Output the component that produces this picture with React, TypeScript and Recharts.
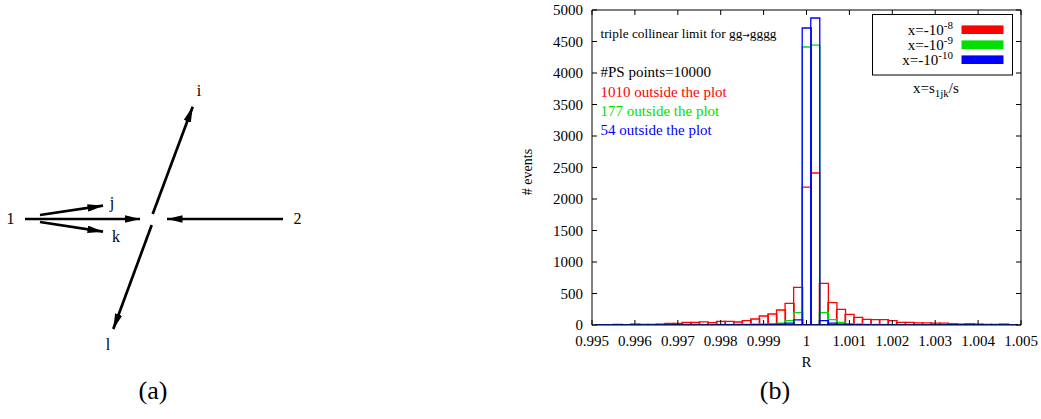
import React from 'react';
import { ComposedChart, LineChart, Line, Bar, XAxis, YAxis, Legend } from 'recharts';

const SERIF = '"Liberation Serif", "Times New Roman", serif';

// ---- histogram (b) ----
const binCenters = [
  0.9952, 0.9954, 0.9956, 0.9958, 0.996, 0.9962, 0.9964, 0.9966, 0.9968, 0.997,
  0.9972, 0.9974, 0.9976, 0.9978, 0.998, 0.9982, 0.9984, 0.9986, 0.9988, 0.999,
  0.9992, 0.9994, 0.9996, 0.9998, 1.0, 1.0002, 1.0004, 1.0006, 1.0008, 1.001,
  1.0012, 1.0014, 1.0016, 1.0018, 1.002, 1.0022, 1.0024, 1.0026, 1.0028, 1.003,
  1.0032, 1.0034, 1.0036, 1.0038, 1.004, 1.0042, 1.0044, 1.0046, 1.0048,
];
const redCounts = [
  5, 5, 10, 5, 15, 10, 10, 15, 25, 25,
  40, 40, 50, 37, 58, 58, 48, 68, 95, 143,
  175, 238, 344, 598, 2190, 2413, 662, 354, 249, 169,
  122, 90, 85, 85, 68, 42, 42, 35, 35, 30,
  30, 20, 15, 20, 15, 10, 10, 15, 5,
];
const greenCounts = [
  3, 5, 3, 5, 5, 3, 5, 5, 5, 5,
  5, 5, 5, 8, 8, 8, 10, 10, 12, 15,
  20, 28, 68, 196, 4413, 4444, 196, 85, 42, 20,
  15, 10, 8, 8, 5, 5, 5, 5, 3, 5,
  5, 3, 3, 5, 3, 3, 5, 3, 3,
];
const blueCounts = [
  2, 2, 2, 2, 2, 2, 2, 2, 2, 2,
  2, 2, 3, 3, 3, 3, 3, 4, 4, 5,
  8, 12, 30, 80, 4714, 4873, 70, 30, 15, 8,
  5, 4, 3, 3, 3, 2, 2, 2, 2, 2,
  2, 2, 2, 2, 2, 2, 2, 2, 2,
];
const seriesKeys = ['red', 'green', 'blue'];
const seriesColors = ['#ff0000', '#00e000', '#0000ff'];
const legendBase = ['x=-10', 'x=-10', 'x=-10'];
const legendExp = ['-8', '-9', '-10'];
const outsideCounts = [1010, 177, 54];
const psPoints = 10000;

const xTicks = [0.995, 0.996, 0.997, 0.998, 0.999, 1, 1.001, 1.002, 1.003, 1.004, 1.005];
const xTickLabels = ['0.995', '0.996', '0.997', '0.998', '0.999', '1', '1.001', '1.002', '1.003', '1.004', '1.005'];
const yTicks = [0, 500, 1000, 1500, 2000, 2500, 3000, 3500, 4000, 4500, 5000];

const histData = binCenters.map((x, i) => ({
  x,
  red: redCounts[i],
  green: greenCounts[i],
  blue: blueCounts[i],
}));

// ---- diagram (a): arrows as [start, end] in diagram units (vertex at origin) ----
const arrow1 = [{ x: -125, y: 0 }, { x: -10, y: 0 }];
const arrowJ = [{ x: -110, y: 4 }, { x: -47, y: 13.3 }];
const arrowK = [{ x: -110, y: -3 }, { x: -47, y: -12.7 }];
const arrow2 = [{ x: 133, y: 0 }, { x: 17, y: 0 }];
const arrowI = [{ x: 2.7, y: 5 }, { x: 42.7, y: 112.3 }];
const arrowL = [{ x: 1.7, y: -6 }, { x: -36.7, y: -110 }];
const diagramArrows = [arrow1, arrowJ, arrowK, arrow2, arrowI, arrowL];

const tickStyle = { fill: '#000', fontSize: 15, fontFamily: SERIF };

const LegendBox = () => (
  <svg width={142} height={63} style={{ display: 'block', overflow: 'visible' }}>
    <rect x={0.5} y={0.5} width={140} height={60.5} fill="#fff" stroke="#000" strokeWidth={1} />
    {seriesKeys.map((k, i) => (
      <g key={k}>
        <text x={81} y={20.7 + 15 * i} textAnchor="end" fontFamily={SERIF} fontSize={15} fill="#000">
          {legendBase[i]}
          <tspan dy={-6} fontSize={11}>{legendExp[i]}</tspan>
        </text>
        <rect x={89.5} y={11.4 + 15 * i} width={42} height={8.6} fill={seriesColors[i]} />
      </g>
    ))}
  </svg>
);

const diagText = { fontFamily: SERIF, fontSize: 16, fill: '#000' };

export default function App() {
  return (
    <div style={{ position: 'absolute', left: 0, top: 0, width: 1041, height: 419, background: '#fff' }}>
      <div style={{ position: 'absolute', left: 0, top: 0 }}>
        <LineChart width={320} height={419} margin={{ top: 0, right: 0, bottom: 0, left: 0 }}>
          <defs>
            <marker id="arrowhead" viewBox="0 0 16 7.5" refX={15.5} refY={3.75} markerWidth={16} markerHeight={7.5}
              markerUnits="userSpaceOnUse" orient="auto">
              <path d="M0,0 L16,3.75 L0,7.5 z" fill="#000" />
            </marker>
          </defs>
          <XAxis type="number" dataKey="x" domain={[-150, 170]} allowDataOverflow hide height={0} />
          <YAxis type="number" domain={[-200, 219]} allowDataOverflow hide width={0} />
          {diagramArrows.map((pts, i) => (
            <Line key={i} data={pts} dataKey="y" stroke="#000" strokeWidth={2.7} dot={false}
              activeDot={false} isAnimationActive={false} markerEnd="url(#arrowhead)" />
          ))}
          <text x={10.5} y={223.5} textAnchor="middle" {...diagText}>1</text>
          <text x={112} y={208} textAnchor="middle" {...diagText}>j</text>
          <text x={116} y={241.5} textAnchor="middle" {...diagText}>k</text>
          <text x={297.5} y={223.5} textAnchor="middle" {...diagText}>2</text>
          <text x={199} y={96} textAnchor="middle" {...diagText}>i</text>
          <text x={108} y={350} textAnchor="middle" {...diagText}>l</text>
          <text x={153} y={399} textAnchor="middle" {...diagText} fontSize={26}>(a)</text>
        </LineChart>
      </div>
      <div style={{ position: 'absolute', left: 500, top: 0 }}>
        <ComposedChart width={541} height={419} data={histData}
          margin={{ top: 0, right: 0, bottom: 44, left: 32 }} barCategoryGap={0} barGap={0}>
          <XAxis xAxisId="main" type="number" dataKey="x" domain={[0.995, 1.005]} allowDataOverflow
            ticks={xTicks} interval={0} tickFormatter={(v: number, i: number) => xTickLabels[i]}
            height={50} tickSize={-5} tickMargin={15} axisLine={{ stroke: '#000' }} tickLine={{ stroke: '#000' }}
            tick={tickStyle}
            label={{ value: 'R', position: 'insideBottom', offset: 8, fill: '#000', fontSize: 15, fontFamily: SERIF }} />
          <XAxis xAxisId="zg" type="number" dataKey="x" domain={[0.995, 1.005]} allowDataOverflow hide height={0} />
          <XAxis xAxisId="zb" type="number" dataKey="x" domain={[0.995, 1.005]} allowDataOverflow hide height={0} />
          <XAxis xAxisId="top" orientation="top" type="number" dataKey="x" domain={[0.995, 1.005]} allowDataOverflow
            ticks={xTicks} interval={0} tickFormatter={() => ''} height={10} tickSize={-5}
            axisLine={{ stroke: '#000' }} tickLine={{ stroke: '#000' }} />
          <YAxis yAxisId="left" type="number" domain={[0, 5000]} allowDataOverflow ticks={yTicks} interval={0}
            width={60} tickSize={-5} tickMargin={14} axisLine={{ stroke: '#000' }} tickLine={{ stroke: '#000' }}
            tick={tickStyle} />
          <YAxis yAxisId="right" orientation="right" type="number" domain={[0, 5000]} allowDataOverflow
            ticks={yTicks} interval={0} width={20} tickSize={-5} tickFormatter={() => ''}
            axisLine={{ stroke: '#000' }} tickLine={{ stroke: '#000' }} />
          <Bar xAxisId="main" yAxisId="left" dataKey="red" name="x=-10^-8" fill="none" stroke={seriesColors[0]}
            strokeWidth={1.3} isAnimationActive={false} />
          <Bar xAxisId="zg" yAxisId="left" dataKey="green" name="x=-10^-9" fill="none" stroke={seriesColors[1]}
            strokeWidth={1.3} isAnimationActive={false} />
          <Bar xAxisId="zb" yAxisId="left" dataKey="blue" name="x=-10^-10" fill="none" stroke={seriesColors[2]}
            strokeWidth={1.3} isAnimationActive={false} />
          <Legend layout="horizontal" verticalAlign="middle" align="center" content={() => <LegendBox />}
            wrapperStyle={{ left: 371.5, top: 14, width: 142, height: 63 }} />
          <text x={100.5} y={38} fontSize={13.3} fontFamily={SERIF} fill="#000">
            triple collinear limit for gg<tspan fontSize={9} fontFamily='"DejaVu Sans", sans-serif'>→</tspan>gggg
          </text>
          <text x={100.5} y={77} fontSize={15} fontFamily={SERIF} fill="#000">#PS points={psPoints}</text>
          <text x={100.5} y={96.5} fontSize={15} fontFamily={SERIF} fill={seriesColors[0]}>{outsideCounts[0]} outside the plot</text>
          <text x={100.5} y={116} fontSize={15} fontFamily={SERIF} fill={seriesColors[1]}>{outsideCounts[1]} outside the plot</text>
          <text x={100.5} y={135} fontSize={15} fontFamily={SERIF} fill={seriesColors[2]}>{outsideCounts[2]} outside the plot</text>
          <text x={413} y={93} fontSize={15} fontFamily={SERIF} fill="#000">
            x=s<tspan dy={4} fontSize={11}>1jk</tspan><tspan dy={-4}>/s</tspan>
          </text>
          <text x={27} y={172} fontSize={14} fontFamily={SERIF} fill="#000" textAnchor="middle" dominantBaseline="central"
            transform="rotate(-90, 27, 172)"># events</text>
          <text x={275} y={399} fontSize={26} fontFamily={SERIF} fill="#000" textAnchor="middle">(b)</text>
        </ComposedChart>
      </div>
    </div>
  );
}
